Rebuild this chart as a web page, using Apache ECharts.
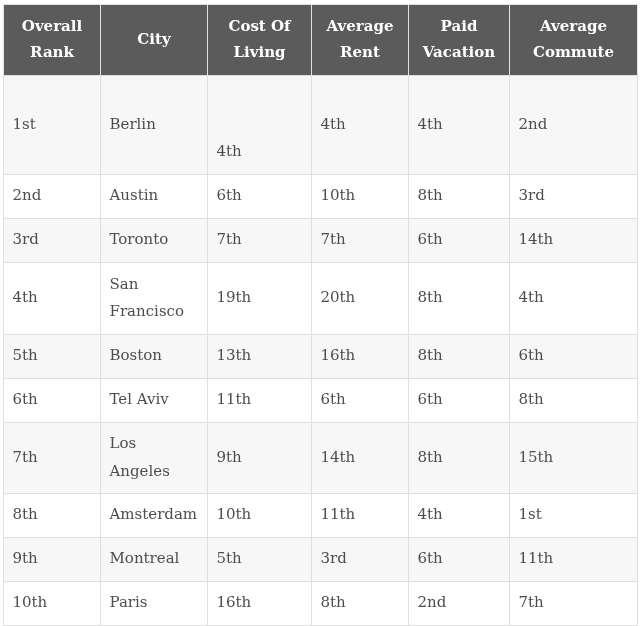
<!DOCTYPE html>
<html>
<head>
<meta charset="utf-8">
<script src="https://cdn.jsdelivr.net/npm/echarts@6/dist/echarts.min.js"></script>
<style>
  html, body { margin: 0; padding: 0; background: #fff; }
  #chart { width: 643px; height: 626px; }
</style>
</head>
<body>
<div id="chart"></div>
<script>
// table content
const headers = ['Overall\nRank', 'City', 'Cost Of\nLiving', 'Average\nRent', 'Paid\nVacation', 'Average\nCommute']
const overallRank = ['1st', '2nd', '3rd', '4th', '5th', '6th', '7th', '8th', '9th', '10th']
const cities = ['Berlin', 'Austin', 'Toronto', 'San\nFrancisco', 'Boston', 'Tel Aviv', 'Los\nAngeles', 'Amsterdam', 'Montreal', 'Paris']
const costOfLiving = ['\n\n4th', '6th', '7th', '19th', '13th', '11th', '9th', '10th', '5th', '16th']
const averageRent = ['4th', '10th', '7th', '20th', '16th', '6th', '14th', '11th', '3rd', '8th']
const paidVacation = ['4th', '8th', '6th', '8th', '8th', '6th', '8th', '4th', '6th', '2nd']
const averageCommute = ['2nd', '3rd', '14th', '4th', '6th', '8th', '15th', '1st', '11th', '7th']

// layout
const colWidths = [97, 107, 104, 97, 101, 128]
const headLine = 26, headPad = 19
const bodyLine = 27.5, bodyPad = 16.5
const textPad = 9

const columns = [overallRank, cities, costOfLiving, averageRent, paidVacation, averageCommute]
const nRows = overallRank.length
const lines = (s) => s.split('\n').length

const colEdges = [0]
colWidths.forEach(w => colEdges.push(colEdges[colEdges.length - 1] + w))

const rowEdges = [0, Math.max(...headers.map(lines)) * headLine + headPad]
for (let r = 0; r < nRows; r++) {
  const n = Math.max(...columns.map(c => lines(c[r])))
  rowEdges.push(rowEdges[rowEdges.length - 1] + n * bodyLine + bodyPad)
}
const totalW = colEdges[colEdges.length - 1]
const totalH = rowEdges[rowEdges.length - 1]

// one item per cell: [col, row, text]; row 0 is the header
const cells = []
headers.forEach((h, c) => cells.push([c, 0, h]))
columns.forEach((col, c) => col.forEach((v, r) => cells.push([c, r + 1, v])))

const snap = (v) => Math.round(v) + 0.5

const renderCell = (params, api) => {
  const c = api.value(0), r = api.value(1)
  const text = cells[params.dataIndex][2]
  const p0 = api.coord([colEdges[c], rowEdges[r]])
  const p1 = api.coord([colEdges[c + 1], rowEdges[r + 1]])
  const x0 = snap(p0[0]), y0 = snap(p0[1]), x1 = snap(p1[0]), y1 = snap(p1[1])
  const isHead = r === 0
  const fill = isHead ? '#5b5b5b' : (r % 2 === 1 ? '#f7f7f7' : '#ffffff')
  return {
    type: 'group',
    children: [
      {
        type: 'rect',
        shape: { x: x0, y: y0, width: x1 - x0, height: y1 - y0 },
        style: { fill, stroke: isHead ? '#e3e3e3' : '#dedede', lineWidth: 1 }
      },
      {
        type: 'text',
        style: {
          text,
          x: isHead ? (x0 + x1) / 2 : x0 + textPad,
          y: (y0 + y1) / 2,
          align: isHead ? 'center' : 'left',
          verticalAlign: 'middle',
          lineHeight: isHead ? headLine : bodyLine,
          fill: isHead ? '#ffffff' : '#4d4d4d',
          font: isHead ? 'bold 15px "DejaVu Serif"' : '15px "DejaVu Serif"'
        }
      }
    ]
  }
}

const chart = echarts.init(document.getElementById('chart'))
chart.setOption({
  animation: false,
  grid: { left: 3, right: 6, top: 4, bottom: 1 },
  xAxis: { type: 'value', min: 0, max: totalW, show: false },
  yAxis: { type: 'value', min: 0, max: totalH, inverse: true, show: false },
  series: [
    {
      type: 'custom',
      renderItem: renderCell,
      data: cells.map(d => [d[0], d[1]]),
      encode: { x: 0, y: 1 },
      clip: false,
      silent: true
    }
  ]
})
window.addEventListener('resize', () => chart.resize())
</script>
</body>
</html>
